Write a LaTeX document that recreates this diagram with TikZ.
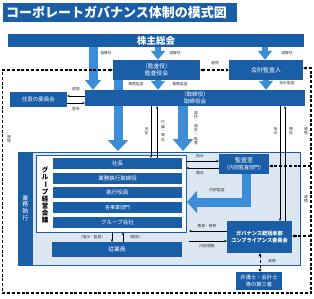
\documentclass[tikz,border=0pt]{standalone}
\usepackage{fontspec}
\usepackage{graphicx}
\setmainfont{Noto Sans CJK JP}
\usetikzlibrary{arrows.meta}
\definecolor{dblue}{RGB}{27,94,168}
\definecolor{lblue}{RGB}{60,141,214}
\definecolor{pnl}{RGB}{221,231,243}
\tikzset{dtip/.tip={Stealth[length=3.2pt,width=3.4pt]}}
\begin{document}
\begin{tikzpicture}[x=1pt,y=-1pt,
  box/.style={fill=dblue,text=white,inner sep=0pt,align=center},
  lbl/.style={font=\fontsize{3.8}{4.3}\selectfont, text=black!80, inner sep=0pt, align=center},
  thinarr/.style={draw=black, line width=0.55pt, -{Stealth[length=2.6pt,width=2.4pt]}},
  dsh/.style={draw=black, line width=1.1pt, dash pattern=on 3pt off 1.8pt},
  fat/.style={draw=lblue, line width=#1},
]
\useasboundingbox (0,0) rectangle (314,298);

% title
\node[box, anchor=north west, minimum height=19pt, text width=228pt, inner xsep=3pt, align=left,
  font=\bfseries\fontsize{13}{13}\selectfont] (title) at (3,3) {コーポレートガバナンス体制の模式図};

% shareholders
\node[box, minimum width=296pt, minimum height=13pt, font=\bfseries\fontsize{9.5}{10}\selectfont] (kabu) at (156,40.5) {株主総会};

% auditors
\node[box, minimum width=87pt, minimum height=20pt, font=\fontsize{5.8}{7}\selectfont] (kansa) at (156.5,70) {（監査役）\\監査役会};
\node[box, minimum width=74pt, minimum height=20pt, font=\fontsize{6}{7}\selectfont] (kaikei) at (266,70) {会計監査人};

% panel
\node[fill=pnl, draw=dblue, line width=0.6pt, minimum width=282pt, minimum height=113pt, inner sep=0pt] (panel) at (159,208.5) {};
\node[box, minimum width=15pt, minimum height=113pt, font=\fontsize{6}{6.8}\selectfont] (gyomu) at (25.5,208.5) {};
\node[text=white, align=center, inner sep=0pt, font=\fontsize{6}{6.8}\selectfont] (gyomut) at (25.5,208) {業\\務\\執\\行};
\node[fill=white, draw=dblue, line width=0.6pt, minimum width=150pt, minimum height=77pt, inner sep=0pt] (group) at (111,193.5) {};
\node[align=center, inner sep=0pt, font=\bfseries\fontsize{6.5}{7}\selectfont] (groupt) at (45,195) {グ\\ル\\\rotatebox[origin=c]{-90}{ー}\\プ\\経\\営\\会\\議};

\node[box, minimum width=129pt, minimum height=11pt, font=\fontsize{5.5}{6}\selectfont] (r1) at (117.5,163.5) {社長};
\node[box, minimum width=129pt, minimum height=11pt, font=\fontsize{5.5}{6}\selectfont] (r2) at (117.5,178.2) {業務執行取締役};
\node[box, minimum width=129pt, minimum height=11pt, font=\fontsize{5.5}{6}\selectfont] (r3) at (117.5,192.9) {執行役員};
\node[box, minimum width=129pt, minimum height=11pt, font=\fontsize{5}{6}\selectfont] (r4) at (117.5,207.6) {各事業部門};
\node[box, minimum width=129pt, minimum height=11pt, font=\fontsize{5.5}{6}\selectfont] (r5) at (117.5,222.4) {グループ会社};

\node[box, minimum width=130pt, minimum height=15pt, font=\fontsize{5.8}{6}\selectfont] (jugyo) at (117,249.5) {従業員};

\node[box, minimum width=50pt, minimum height=20pt, font=\fontsize{5}{6.8}\selectfont] (kansashitsu) at (244,164) {{\fontsize{6}{6.8}\selectfont 監査室}\\（内部監査部門）};
\node[box, minimum width=65pt, minimum height=32pt, font=\bfseries\fontsize{5.2}{7}\selectfont] (gov) at (259.5,237) {ガバナンス統括本部\\コンプライアンス委員会};
\node[box, minimum width=46pt, minimum height=18pt, font=\fontsize{5.3}{6.6}\selectfont] (bengo) at (259,281) {弁護士・会計士\\等の第三者};

% fat arrows
\draw[fat=9pt, -{Triangle[width=20pt,length=11pt]}] (kansa.south -| 118,0) -- (118,151);
\node[box, minimum width=220pt, minimum height=16pt, font=\fontsize{5.6}{6.8}\selectfont] (tori) at (195,98) {（取締役）\\取締役会};
\node[box, minimum width=57pt, minimum height=15pt, font=\fontsize{5.5}{6}\selectfont] (nini) at (38.5,99.5) {任意の委員会};

\draw[fat=9pt, -{Triangle[width=16pt,length=10pt]}] (kabu.south -| 93,0) -- (tori.north -| 93,0);
\draw[fat=6pt, -{Triangle[width=14pt,length=9pt]}] (kabu.south -| 158,0) -- (kansa.north -| 158,0);
\draw[fat=6pt, -{Triangle[width=14pt,length=9pt]}] (kabu.south -| 265,0) -- (kaikei.north -| 265,0);
\draw[fat=6pt, -{Triangle[width=14pt,length=9pt]}] (kansa.south -| 158,0) -- (tori.north -| 158,0);
\draw[fat=6pt, -{Triangle[width=14pt,length=9pt]}] (kaikei.south -| 266,0) -- (tori.north -| 266,0);
\draw[fat=10pt, -{Triangle[width=20pt,length=12pt]}] (tori.south -| 183,0) -- (183,151);
\draw[fat=9pt, line join=miter, -{Triangle[width=22pt,length=10pt]}] (kansashitsu.south -| 246,0) |- (187,202);

% fat arrow labels
\node[lbl] at (106,53) {選解任};
\node[lbl] at (175,53) {選解任};
\node[lbl] at (287,53) {選解任};
\node[lbl] at (136,84) {業務監査};
\node[lbl] at (180,84) {業務監査};
\node[lbl] at (287,83) {会計監査};
\node[lbl] at (217,190) {内部監査};
\node[lbl] at (196,128) {選\\任\\・\\選\\定\\・\\監\\督};

% thin arrows
\draw[thinarr] (tori.west |- 0,96) -- (nini.east |- 0,96);
\draw[thinarr] (nini.east |- 0,103) -- (tori.west |- 0,103);
\node[lbl] at (76,89) {諮問};
\node[lbl] at (76,109.5) {答申};

\draw[thinarr] (tori.south -| 151,0) -- (r1.north -| 151,0);
\draw[thinarr] (r1.north -| 157,0) -- (tori.south -| 157,0);
\node[lbl] at (146.5,131) {決\\定};
\node[lbl] at (163,131) {付\\議\\・\\報\\告};

\draw[thinarr] (tori.south -| 280,0) -- (gov.north -| 280,0);
\draw[thinarr] (gov.north -| 285,0) -- (tori.south -| 285,0);
\node[lbl] at (275.5,131) {指\\示};
\node[lbl] at (291,131) {報\\告};

\draw[thinarr] (group.east |- 0,161) -- (kansashitsu.west |- 0,161);
\draw[thinarr] (kansashitsu.west |- 0,168) -- (group.east |- 0,168);
\node[lbl] at (200,156) {指示};
\node[lbl] at (200,173) {報告};

\draw[thinarr] (gov.west |- 0,231) -- (189,231);
\draw[thinarr] (189,241) -- (gov.west |- 0,241);
\node[lbl] at (207,226.5) {教育・研修};
\node[lbl] at (207,246) {内部通報};

\draw[thinarr] (group.south -| 112,0) -- (jugyo.north -| 112,0);
\draw[thinarr] (jugyo.north -| 123,0) -- (group.south -| 123,0);
\node[lbl] at (92,237.5) {（指示・監督）};
\node[lbl] at (135,237.5) {（報告）};

% dashed lines
\draw[dsh, dtip-dtip] (kansa.west |- 0,70) -- (2.5,70) -- (2.5,293) -- (311,293) -- (311,68) -- (kaikei.east |- 0,68);
\draw[dsh, dtip-dtip] (kansa.east) -- (kaikei.west);
\node[lbl] at (215,63) {連携};
\draw[dsh, -dtip] (311,166) -- (kansashitsu.east |- 0,166);
\draw[dsh, -dtip] (311,236) -- (gov.east |- 0,236);
\draw[dsh, line width=0.9pt, dtip-dtip] (gov.south -| 260,0) -- (bengo.north -| 260,0);
\node[lbl] at (272,261) {連携};
\node[lbl] at (9,139) {連\\携};
\node[lbl] at (306,131) {連\\携};
\node[lbl] at (306,199) {連\\携};
\end{tikzpicture}
\end{document}
